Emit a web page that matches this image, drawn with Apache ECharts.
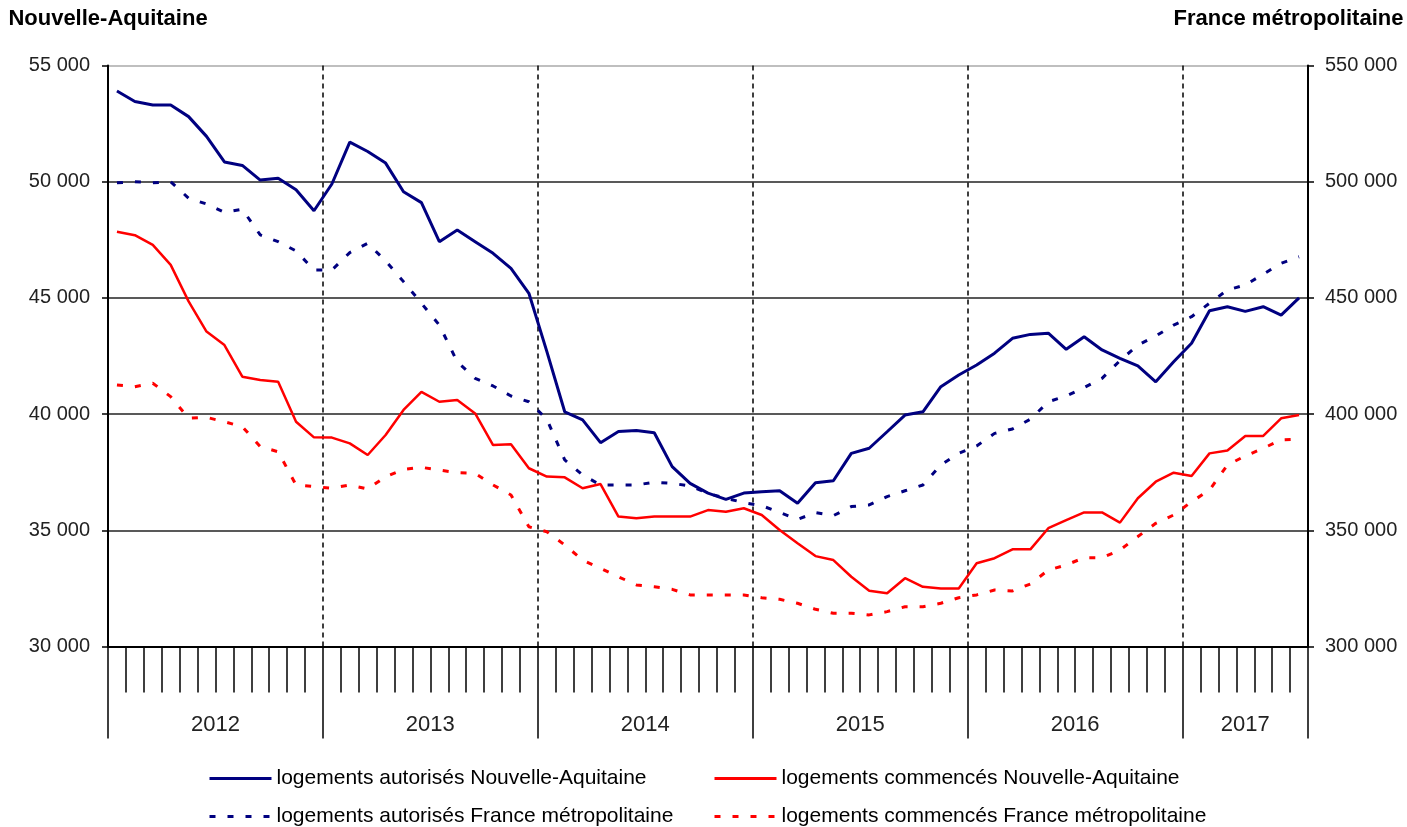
<!DOCTYPE html>
<html>
<head>
<meta charset="utf-8">
<script src="https://cdn.jsdelivr.net/npm/echarts@6/dist/echarts.min.js"></script>
<style>
html,body{margin:0;padding:0;background:#fff;}
#chart{width:1407px;height:827px;}
</style>
</head>
<body>
<div id="chart"></div>
<script>
// ---- Data ----
const years = ['2012', '2013', '2014', '2015', '2016', '2017'];
const monthsPerYear = [12, 12, 12, 12, 12, 7];

const seriesNames = [
  'logements autorisés Nouvelle-Aquitaine',
  'logements commencés Nouvelle-Aquitaine',
  'logements autorisés France métropolitaine',
  'logements commencés France métropolitaine'
];

// Nouvelle-Aquitaine (left axis)
const autorisesNA = [
  53900, 53450, 53300, 53300, 52800, 51950, 50850, 50700, 50070, 50150, 49650, 48750,
  49900, 51700, 51300, 50800, 49570, 49100, 47420, 47920, 47420, 46920, 46270, 45200,
  42700, 40100, 39750, 38770, 39250, 39290, 39200, 37740, 37020, 36600, 36330, 36600,
  36660, 36700, 36160, 37050, 37130, 38310, 38530, 39240, 39960, 40100, 41180, 41680,
  42110, 42620, 43260, 43430, 43480, 42790, 43330, 42760, 42400, 42070, 41390, 42250,
  43050, 44450, 44620, 44420, 44620, 44260, 45000
];
const commencesNA = [
  47850, 47700, 47280, 46420, 44850, 43550, 42970, 41610, 41470, 41390, 39670, 39000,
  38990, 38740, 38240, 39100, 40180, 40960, 40530, 40610, 40030, 38670, 38700, 37670,
  37310, 37280, 36810, 36990, 35590, 35520, 35590, 35590, 35590, 35870, 35800, 35950,
  35660, 35010, 34440, 33890, 33720, 33000, 32400, 32290, 32940, 32570, 32500, 32500,
  33580, 33800, 34180, 34180, 35090, 35440, 35770, 35770, 35330, 36380, 37090, 37480,
  37340, 38310, 38430, 39060, 39060, 39820, 39960
];
// France métropolitaine (right axis)
const autorisesFR = [
  499500, 500000, 499500, 500000, 492900, 490400, 486800, 488100, 477100, 474200, 470200, 462000,
  462000, 469500, 473500, 465900, 457000, 447700, 438300, 422500, 415400, 412100, 407800, 405300,
  397800, 380300, 373800, 369500, 369500, 369500, 370700, 370200, 369100, 365900, 363800, 361900,
  360600, 357700, 354700, 357600, 356300, 360200, 360900, 364500, 367000, 369500, 378100, 383100,
  386300, 391700, 393600, 397800, 405300, 407800, 411400, 415400, 423000, 429700, 433600, 438300,
  441900, 447700, 453400, 455600, 460200, 464900, 467700
];
const commencesFR = [
  412500, 411800, 413300, 407500, 398200, 398600, 396700, 394600, 386000, 383800, 369500, 368800,
  368100, 369500, 367800, 373100, 376200, 377100, 375900, 374800, 374500, 369500, 365200, 351500,
  349400, 343700, 337200, 333600, 330000, 326500, 325700, 324600, 322200, 322200, 322200, 322200,
  321000, 320300, 318600, 316000, 314300, 314300, 313600, 315000, 317100, 317100, 318600, 321000,
  322200, 324300, 323900, 326900, 332900, 335100, 338200, 338200, 341500, 347300, 353000, 356600,
  362300, 367300, 378100, 382000, 385300, 388900, 389200
];

// ---- Build categories ----
const months = [];
const yearStart = [];
years.forEach((y, k) => {
  yearStart.push(months.length);
  for (let m = 1; m <= monthsPerYear[k]; m++) months.push(y + '-' + String(m).padStart(2, '0'));
});
const yearLabelIdx = {};
years.forEach((y, k) => {
  const n = monthsPerYear[k];
  if (n % 2 === 0) yearLabelIdx[yearStart[k] + n / 2] = { text: y, shift: true };
  else yearLabelIdx[yearStart[k] + (n - 1) / 2] = { text: y, shift: false };
});
const isYearStart = i => yearStart.indexOf(i) >= 0;

const FONT = "'Liberation Sans', Arial, sans-serif";
const fmt = v => String(v).replace(/\B(?=(\d{3})+(?!\d))/g, ' ');

const chart = echarts.init(document.getElementById('chart'), null, { renderer: 'canvas' });

const dashPattern = [6, 12];
const legendCommon = {
  itemWidth: 62, itemHeight: 14, itemGap: 0, padding: 0,
  textStyle: { fontFamily: FONT, fontSize: 21, color: '#000' },
  itemStyle: { opacity: 0 },
  lineStyle: { width: 3 },
  selectedMode: false
};

chart.setOption({
  animation: false,
  backgroundColor: '#fff',
  textStyle: { fontFamily: FONT },
  grid: { left: 108, right: 99, top: 65.5, bottom: 180.5, containLabel: false },
  legend: [
    Object.assign({ data: [seriesNames[0]], left: 208, top: 768 }, legendCommon),
    Object.assign({ data: [seriesNames[1]], left: 713, top: 768 }, legendCommon),
    Object.assign({ data: [seriesNames[2]], left: 208, top: 806 }, legendCommon),
    Object.assign({ data: [seriesNames[3]], left: 713, top: 806 }, legendCommon)
  ],
  xAxis: [
    {
      type: 'category', data: months, position: 'bottom', offset: 0, boundaryGap: true,
      axisLine: { show: true, lineStyle: { color: '#000', width: 2 } },
      axisTick: { show: true, interval: 0, length: 46, lineStyle: { color: '#000', width: 1.5 } },
      axisLabel: { show: false },
      splitLine: { show: false }
    },
    {
      type: 'category', data: months, position: 'bottom', offset: 0, boundaryGap: true,
      axisLine: { show: false },
      axisTick: {
        show: true, length: 92,
        interval: (i) => isYearStart(i) || i === months.length,
        lineStyle: { color: '#000', width: 1.5 }
      },
      axisLabel: {
        show: true, margin: 67,
        interval: (i) => yearLabelIdx[i] !== undefined,
        formatter: (v, i) => {
          const o = yearLabelIdx[i];
          if (!o) return '';
          return o.shift ? '{s|' + o.text + '}' : '{n|' + o.text + '}';
        },
        rich: {
          s: { fontFamily: FONT, fontSize: 22, color: '#222', padding: [0, 18, 0, 0] },
          n: { fontFamily: FONT, fontSize: 22, color: '#222' }
        }
      },
      splitLine: {
        show: true,
        interval: (i) => isYearStart(i) && i > 0,
        lineStyle: { color: '#000', width: 1.5, type: [5, 4] }
      }
    }
  ],
  yAxis: [
    {
      type: 'value', position: 'left', min: 30000, max: 55000, interval: 5000,
      name: 'Nouvelle-Aquitaine', nameLocation: 'end', nameGap: 36,
      nameTextStyle: { fontFamily: FONT, fontSize: 22, fontWeight: 'bold', color: '#000' },
      axisLine: { show: true, lineStyle: { color: '#000', width: 2 } },
      axisTick: { show: true, length: 6, lineStyle: { color: '#000', width: 1.5 } },
      axisLabel: { margin: 18, fontFamily: FONT, fontSize: 20, color: '#222', formatter: fmt },
      splitLine: {
        show: true,
        lineStyle: { color: ['#222', '#222', '#222', '#222', '#222', '#aaa'], width: 1.5 }
      }
    },
    {
      type: 'value', position: 'right', min: 300000, max: 550000, interval: 50000,
      name: 'France métropolitaine', nameLocation: 'end', nameGap: 36,
      nameTextStyle: { fontFamily: FONT, fontSize: 22, fontWeight: 'bold', color: '#000', padding: [0, 39, 0, 0] },
      axisLine: { show: true, lineStyle: { color: '#000', width: 2 } },
      axisTick: { show: true, length: 6, lineStyle: { color: '#000', width: 1.5 } },
      axisLabel: { margin: 17, fontFamily: FONT, fontSize: 20, color: '#222', formatter: fmt },
      splitLine: { show: false }
    }
  ],
  series: [
    {
      name: seriesNames[0], type: 'line', xAxisIndex: 0, yAxisIndex: 0, data: autorisesNA,
      symbol: 'none', color: '#000080', lineStyle: { color: '#000080', width: 3 }, z: 4,
      emphasis: { disabled: true }
    },
    {
      name: seriesNames[1], type: 'line', xAxisIndex: 0, yAxisIndex: 0, data: commencesNA,
      symbol: 'none', color: '#ff0000', lineStyle: { color: '#ff0000', width: 2.5 }, z: 4,
      emphasis: { disabled: true }
    },
    {
      name: seriesNames[2], type: 'line', xAxisIndex: 0, yAxisIndex: 1, data: autorisesFR,
      symbol: 'none', color: '#000080', lineStyle: { color: '#000080', width: 3, type: dashPattern }, z: 3,
      emphasis: { disabled: true }
    },
    {
      name: seriesNames[3], type: 'line', xAxisIndex: 0, yAxisIndex: 1, data: commencesFR,
      symbol: 'none', color: '#ff0000', lineStyle: { color: '#ff0000', width: 3, type: dashPattern }, z: 3,
      emphasis: { disabled: true }
    }
  ]
});
</script>
</body>
</html>
